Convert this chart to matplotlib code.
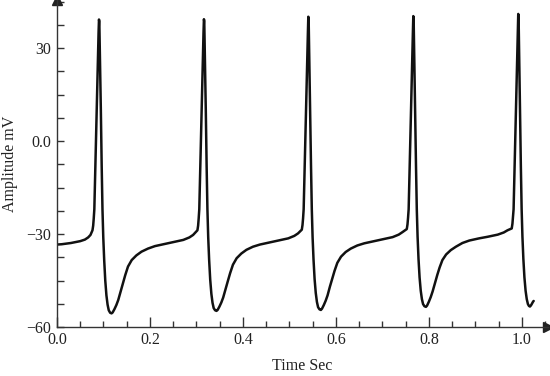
import matplotlib
matplotlib.use("Agg")
import matplotlib.pyplot as plt
from matplotlib.ticker import MultipleLocator, FixedLocator, FixedFormatter

plt.rcParams['font.family'] = ['Liberation Serif', 'DejaVu Serif']

# Time (s) and membrane potential (mV)
time_s = [
    # lead-in and spike 1
    0.000, 0.010, 0.020, 0.030, 0.040, 0.050, 0.060, 0.067, 0.072, 0.0763,
    0.0778, 0.0790, 0.0803, 0.0828, 0.0853, 0.0878, 0.0894, 0.0903, 0.0910, 0.0920,
    0.0943, 0.0961, 0.0978, 0.0995, 0.1015, 0.1038, 0.1063, 0.1088, 0.1113, 0.1143,
    0.1173,
    0.1197, 0.1237, 0.1277, 0.1317, 0.1367, 0.1417, 0.1467, 0.1527, 0.1607, 0.1707,
    0.1817, 0.1957, 0.2107, 0.2317, 0.2497, 0.2717, 0.2847, 0.2927,
    # spike 2
    0.3020, 0.3035, 0.3047, 0.3060, 0.3085, 0.3110, 0.3135, 0.3151, 0.3160, 0.3167,
    0.3177, 0.3200, 0.3218, 0.3235, 0.3252, 0.3272, 0.3295, 0.3320, 0.3345, 0.3370,
    0.3400, 0.3430,
    0.3454, 0.3494, 0.3534, 0.3574, 0.3624, 0.3674, 0.3724, 0.3784, 0.3864, 0.3964,
    0.4074, 0.4214, 0.4364, 0.4574, 0.4754, 0.4974, 0.5104, 0.5184,
    # spike 3
    0.5265, 0.5280, 0.5292, 0.5305, 0.5330, 0.5355, 0.5380, 0.5396, 0.5405, 0.5412,
    0.5422, 0.5445, 0.5463, 0.5480, 0.5497, 0.5517, 0.5540, 0.5565, 0.5590, 0.5615,
    0.5645, 0.5675,
    0.5699, 0.5739, 0.5779, 0.5819, 0.5869, 0.5919, 0.5969, 0.6029, 0.6109, 0.6209,
    0.6319, 0.6459, 0.6609, 0.6819, 0.6999, 0.7219, 0.7349, 0.7429,
    # spike 4
    0.7523, 0.7538, 0.7550, 0.7563, 0.7588, 0.7613, 0.7638, 0.7654, 0.7663, 0.7670,
    0.7680, 0.7703, 0.7721, 0.7738, 0.7755, 0.7775, 0.7798, 0.7823, 0.7848, 0.7873,
    0.7903, 0.7935,
    0.7959, 0.7999, 0.8039, 0.8079, 0.8129, 0.8179, 0.8229, 0.8289, 0.8369, 0.8469,
    0.8579, 0.8719, 0.8869, 0.9079, 0.9259, 0.9479, 0.9609, 0.9689,
    # spike 5
    0.9780, 0.9795, 0.9807, 0.9820, 0.9845, 0.9870, 0.9895, 0.9911, 0.9920, 0.9927,
    0.9937, 0.9958, 0.9976, 0.9993, 1.0010, 1.0030, 1.0053, 1.0078, 1.0103, 1.0128,
    1.0150, 1.0172, 1.0195, 1.0220, 1.0240, 1.0252,
]
amplitude_mv = [
    -33.4, -33.3, -33.1, -32.9, -32.6, -32.3, -31.8, -31.1, -30.3, -28.8,
    -27.3, -25.0, -22.0, -6.0, 10.0, 25.0, 35.0, 39.2, 38.6, 30.0,
    10.0, -8.0, -22.0, -31.0, -38.4, -45.0, -49.8, -52.8, -54.6, -55.4,
    -55.6,
    -55.3, -54.2, -52.9, -51.3, -48.6, -46.0, -43.3, -40.5, -38.4, -36.9,
    -35.7, -34.7, -33.9, -33.2, -32.6, -31.9, -31.1, -30.3,
    -28.8, -27.3, -25.0, -22.0, -6.0, 10.0, 25.0, 35.0, 39.3, 38.7,
    30.0, 10.0, -8.0, -22.0, -31.0, -38.3, -44.7, -49.3, -52.2, -53.9,
    -54.6, -54.8,
    -54.5, -53.4, -52.1, -50.5, -47.8, -45.2, -42.6, -39.9, -37.8, -36.3,
    -35.1, -34.1, -33.4, -32.7, -32.1, -31.4, -30.6, -29.8,
    -28.6, -27.1, -25.0, -22.0, -6.0, 10.0, 25.0, 35.0, 40.1, 39.5,
    30.0, 10.0, -8.0, -22.0, -31.0, -38.2, -44.5, -49.0, -51.9, -53.6,
    -54.3, -54.5,
    -54.1, -52.9, -51.5, -49.8, -47.0, -44.4, -41.9, -39.3, -37.3, -35.8,
    -34.7, -33.7, -33.0, -32.3, -31.7, -31.0, -30.2, -29.4,
    -28.4, -26.9, -24.8, -22.0, -6.0, 10.0, 25.0, 35.0, 40.3, 39.7,
    30.0, 10.0, -8.0, -22.0, -30.8, -38.0, -44.0, -48.3, -51.0, -52.6,
    -53.3, -53.5,
    -53.1, -51.8, -50.3, -48.5, -45.8, -43.2, -40.8, -38.4, -36.6, -35.2,
    -34.1, -32.9, -32.1, -31.4, -30.9, -30.2, -29.5, -28.8,
    -28.2, -26.7, -24.6, -22.0, -6.0, 10.0, 25.0, 35.0, 41.0, 40.4,
    30.0, 10.0, -8.0, -22.0, -30.8, -38.0, -44.0, -48.3, -51.0, -52.6,
    -53.2, -53.4, -53.0, -52.3, -51.8, -51.6,
]

x_ticks = [0.0, 0.2, 0.4, 0.6, 0.8, 1.0]
x_tick_labels = ["0.0", "0.2", "0.4", "0.6", "0.8", "1.0"]
y_ticks = [-60, -30, 0, 30]
y_tick_labels = ["\u221260", "\u221230", "0.0", "30"]

fig = plt.figure(figsize=(5.5, 3.76), dpi=100)
ax = fig.add_axes([57 / 550, 49 / 376, 491 / 550, 327 / 376])

ax.plot(time_s, amplitude_mv, color="#111111", lw=1.8, solid_joinstyle="round",
        solid_capstyle="round")

ax.set_xlim(0, 1.056)
ax.set_ylim(-60, 45.5)

for s in ("top", "right"):
    ax.spines[s].set_visible(False)
for s in ("left", "bottom"):
    ax.spines[s].set_color("#333333")
    ax.spines[s].set_linewidth(1.0)

ax.xaxis.set_major_locator(FixedLocator(x_ticks))
ax.xaxis.set_major_formatter(FixedFormatter(x_tick_labels))
ax.xaxis.set_minor_locator(MultipleLocator(0.05))
ax.yaxis.set_major_locator(FixedLocator(y_ticks))
ax.yaxis.set_major_formatter(FixedFormatter(y_tick_labels))
ax.yaxis.set_minor_locator(MultipleLocator(7.5))

ax.tick_params(axis="both", which="both", direction="in", colors="#333333",
               labelcolor="#222222", labelsize=11.5)
ax.tick_params(axis="x", which="major", length=7, width=1.0, pad=3.5)
ax.tick_params(axis="x", which="minor", length=4.5, width=1.0)
ax.tick_params(axis="y", which="major", length=5, width=1.0, pad=4.5)
ax.tick_params(axis="y", which="minor", length=5, width=1.0)

# arrow heads at the end of the axes
ax.plot(1, 0, marker=">", color="#222222", markersize=7, transform=ax.transAxes,
        clip_on=False)
ax.plot(0, 1, marker="^", color="#222222", markersize=7, transform=ax.transAxes,
        clip_on=False)

ax.set_xlabel("Time Sec", fontsize=11.5, color="#222222", labelpad=7)
ax.set_ylabel("Amplitude mV", fontsize=11.5, color="#222222", labelpad=6)

fig.savefig("out.png", dpi=100)
